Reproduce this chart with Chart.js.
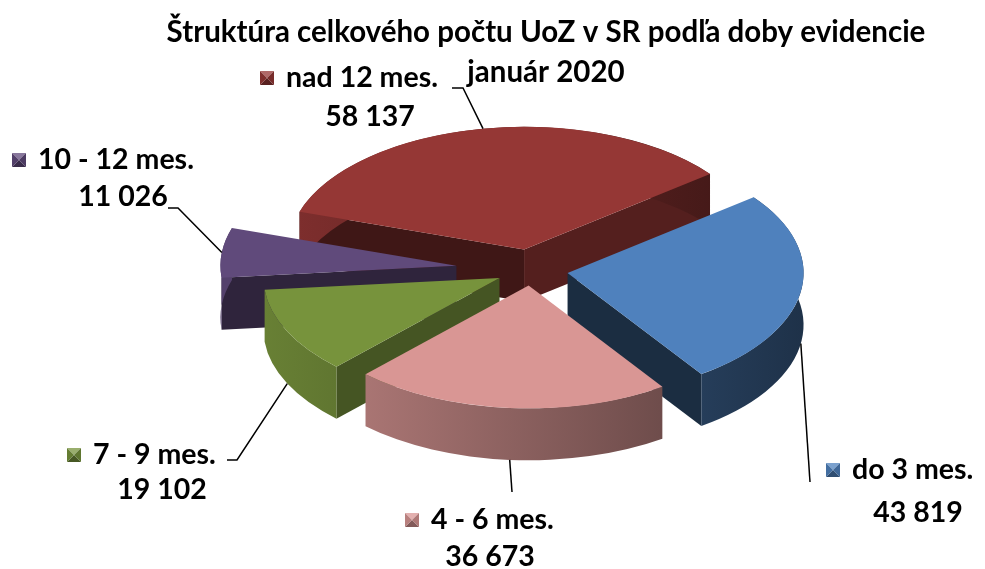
<!DOCTYPE html>
<html><head><meta charset="utf-8">
<script src="https://cdn.jsdelivr.net/npm/chart.js@4.4.1/dist/chart.umd.min.js"></script>
<style>html,body{margin:0;padding:0;background:#fff;}canvas{display:block}</style>
</head><body>
<canvas id="c" width="985" height="569"></canvas>
<script>
// ---- data ----
const titleLines = ['Štruktúra celkového počtu UoZ v SR podľa doby evidencie', 'január 2020'];
const categories = ['do 3 mes.', '4 - 6 mes.', '7 - 9 mes.', '10 - 12 mes.', 'nad 12 mes.'];
const values = [43819, 36673, 19102, 11026, 58137];

// ---- styles / layout ----
const colors = ['#4f81bd', '#d99694', '#77933c', '#604a7b', '#953735'];
const explode = [37, 30, 35, 75, 40];
const tilt = 0.52, depth = 52;
const FONT = 'Lato, "Open Sans", sans-serif';
const FS_TITLE = 29.5, FS = 28.5;
// per label: key x, name y, value center x, value y, leader elbow points
const labelLayout = [
  {kx: 826, ny: 470, vx: 918, vy: 513, path: [[810, 482]]},
  {kx: 405, ny: 520, vx: 490, vy: 557, path: [[512, 492]]},
  {kx: 67,  ny: 455, vx: 162, vy: 490, path: [[237, 460], [227, 460]]},
  {kx: 12,  ny: 160, vx: 123, vy: 197, path: [[178, 208], [168, 208]]},
  {kx: 260, ny: 78,  vx: 370, vy: 117, path: [[463, 88], [452, 88]]}
];

const fmt = v => v.toString().replace(/\B(?=(\d{3})+(?!\d))/g, ' ');

function shade(hex, f) {
  const n = parseInt(hex.slice(1), 16);
  const c = [(n >> 16) & 255, (n >> 8) & 255, n & 255].map(v => Math.max(0, Math.min(255, Math.round(f >= 1 ? v + (255 - v) * (f - 1) : v * f))));
  return `rgb(${c[0]},${c[1]},${c[2]})`;
}

function arcGeom(a, i) {
  const half = (a.startAngle + a.endAngle) / 2;
  return {half, x0: a.x + Math.cos(half) * explode[i], y0: a.y + Math.sin(half) * explode[i],
          r: a.outerRadius, s: a.startAngle, e: a.endAngle};
}

function drawWalls(ctx, a, i, h) {
  const g = arcGeom(a, i);
  const col = colors[i];
  [[g.s, -1], [g.e, 1]].forEach(([ang, sg]) => {
    const nx = Math.cos(ang + sg * Math.PI / 2), ny = Math.sin(ang + sg * Math.PI / 2);
    if (ny <= 0) return;
    const px = g.x0 + g.r * Math.cos(ang), py = g.y0 + g.r * Math.sin(ang);
    ctx.beginPath();
    ctx.moveTo(g.x0, g.y0); ctx.lineTo(px, py); ctx.lineTo(px, py + h); ctx.lineTo(g.x0, g.y0 + h);
    ctx.closePath();
    ctx.fillStyle = shade(col, 0.47 + 0.15 * nx);
    ctx.fill();
  });
  const cx = a.x, R = g.r + 40;
  const grad = ctx.createLinearGradient(cx - R, 0, cx + R, 0);
  grad.addColorStop(0, shade(col, 0.88));
  grad.addColorStop(1, shade(col, 0.38));
  ctx.beginPath();
  ctx.arc(g.x0, g.y0, g.r, g.s, g.e);
  ctx.lineTo(g.x0 + g.r * Math.cos(g.e), g.y0 + g.r * Math.sin(g.e) + h);
  ctx.arc(g.x0, g.y0 + h, g.r, g.e, g.s, true);
  ctx.closePath();
  ctx.fillStyle = grad;
  ctx.fill();
}

const pie3d = {
  id: 'pie3d',
  beforeDatasetDraw(chart, args) {
    const ctx = chart.ctx;
    const arcs = args.meta.data;
    const cx = arcs[0].x, cy = arcs[0].y;
    const h = depth / tilt;
    ctx.save();
    ctx.translate(cx, cy); ctx.scale(1, tilt); ctx.translate(-cx, -cy);
    const order = arcs.map((a, i) => i).sort((i, j) =>
      Math.sin((arcs[i].startAngle + arcs[i].endAngle) / 2) - Math.sin((arcs[j].startAngle + arcs[j].endAngle) / 2));
    order.forEach(i => drawWalls(ctx, arcs[i], i, h));
    arcs.forEach((a, i) => {
      const half = (a.startAngle + a.endAngle) / 2;
      ctx.save();
      ctx.translate(Math.cos(half) * explode[i], Math.sin(half) * explode[i]);
      a.draw(ctx);
      ctx.restore();
    });
    ctx.restore();
    return false;
  },
  afterDraw(chart) {
    const ctx = chart.ctx;
    const arcs = chart.getDatasetMeta(0).data;
    const cy = arcs[0].y;
    ctx.save();
    ctx.fillStyle = '#000';
    ctx.font = `bold ${FS_TITLE}px ${FONT}`;
    ctx.textAlign = 'center'; ctx.textBaseline = 'middle';
    ctx.fillText(titleLines[0], 546, 32);
    ctx.fillText(titleLines[1], 546, 72);
    ctx.font = `bold ${FS}px ${FONT}`;
    arcs.forEach((a, i) => {
      const L = labelLayout[i];
      const g = arcGeom(a, i);
      let ax = g.x0 + g.r * Math.cos(g.half);
      let ay = cy + tilt * (g.y0 + g.r * Math.sin(g.half) - cy);
      if (Math.sin(g.half) > 0.1) ay += depth;
      ctx.strokeStyle = '#000'; ctx.lineWidth = 1.5;
      ctx.beginPath(); ctx.moveTo(ax, ay);
      L.path.forEach(p => ctx.lineTo(p[0], p[1]));
      ctx.stroke();
      const ks = 14, ky = L.ny - ks / 2, kx = L.kx, col = colors[i];
      const tri = (pts, c) => { ctx.beginPath(); ctx.moveTo(...pts[0]); ctx.lineTo(...pts[1]); ctx.lineTo(...pts[2]); ctx.closePath(); ctx.fillStyle = c; ctx.fill(); };
      const m = [kx + ks / 2, ky + ks / 2];
      tri([[kx, ky], [kx + ks, ky], m], shade(col, 1.25));
      tri([[kx, ky + ks], [kx + ks, ky + ks], m], shade(col, 0.6));
      tri([[kx, ky], [kx, ky + ks], m], shade(col, 0.85));
      tri([[kx + ks, ky], [kx + ks, ky + ks], m], shade(col, 0.8));
      ctx.fillStyle = '#000';
      ctx.textAlign = 'left';
      ctx.fillText(categories[i], kx + ks + 12, L.ny);
      ctx.textAlign = 'center';
      ctx.fillText(fmt(values[i]), L.vx, L.vy);
    });
    ctx.restore();
  }
};

new Chart(document.getElementById('c'), {
  type: 'pie',
  data: {labels: categories, datasets: [{data: values, backgroundColor: colors, borderWidth: 0, hoverOffset: 0}]},
  options: {
    responsive: false, animation: false, events: [],
    rotation: 52, radius: 236,
    layout: {padding: {left: 100, right: 23, top: 10, bottom: 39}},
    plugins: {legend: {display: false}, tooltip: {enabled: false}, title: {display: false}}
  },
  plugins: [pie3d]
});
</script>
</body></html>
